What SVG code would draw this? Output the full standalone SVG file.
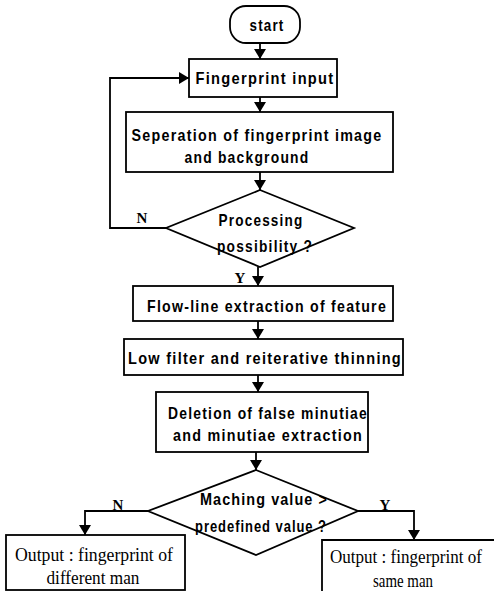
<svg xmlns="http://www.w3.org/2000/svg" width="497" height="591" viewBox="0 0 497 591">
<defs>
<marker id="ah" viewBox="0 0 10 12" refX="10" refY="6" markerWidth="10" markerHeight="12" markerUnits="userSpaceOnUse" orient="auto">
<path d="M0,0 L10,6 L0,12 z" fill="#000"/>
</marker>
<style>
.box{fill:#fff;stroke:#000;stroke-width:1.8}
.conn{fill:none;stroke:#000;stroke-width:1.8;marker-end:url(#ah)}
.t{font-family:"Liberation Sans",Arial,sans-serif;font-weight:bold;font-size:17px;letter-spacing:1.5px;text-anchor:middle;fill:#000}
.d{font-family:"Liberation Sans",Arial,sans-serif;font-weight:bold;font-size:16px;letter-spacing:1.2px;text-anchor:middle;fill:#000}
.o{font-family:"Liberation Serif","Times New Roman",serif;font-size:18px;text-anchor:middle;fill:#000}
.l{font-family:"Liberation Serif","Times New Roman",serif;font-weight:bold;font-size:15px;text-anchor:middle;fill:#000}
</style>
</defs>
<rect width="497" height="591" fill="#fff"/>
<g id="connectors">
<line class="conn" x1="260" y1="43" x2="260" y2="59"/>
<line class="conn" x1="260" y1="97" x2="260" y2="112"/>
<line class="conn" x1="260" y1="172" x2="260" y2="190"/>
<path class="conn" d="M166,228 H110 V78 H189"/>
<line class="conn" x1="258" y1="267" x2="258" y2="286"/>
<line class="conn" x1="258" y1="321" x2="258" y2="339"/>
<line class="conn" x1="258" y1="375" x2="258" y2="392"/>
<line class="conn" x1="256" y1="452" x2="256" y2="470"/>
<path class="conn" d="M148,511 H85 V535"/>
<path class="conn" d="M358,511 H414 V540"/>
<text class="l" x="142" y="223">N</text>
<text class="l" x="240" y="283">Y</text>
<text class="l" x="118" y="510">N</text>
<text class="l" x="385" y="510">Y</text>
</g>
<g id="start">
<rect class="box" x="230" y="6" width="70" height="37" rx="16"/>
<text class="t" x="267" y="31" textLength="35" lengthAdjust="spacingAndGlyphs">start</text>
</g>
<g id="fingerprint-input">
<rect class="box" x="189" y="59" width="148" height="38"/>
<text class="t" x="265" y="84" textLength="139" lengthAdjust="spacingAndGlyphs">Fingerprint input</text>
</g>
<g id="separation">
<rect class="box" x="126" y="112" width="267" height="60"/>
<text class="t" x="257" y="141" textLength="251" lengthAdjust="spacingAndGlyphs">Seperation of fingerprint image</text>
<text class="t" x="247" y="163" textLength="125" lengthAdjust="spacingAndGlyphs">and background</text>
</g>
<g id="processing-possibility">
<polygon class="box" points="260,190 354,228 260,267 166,228"/>
<text class="t" x="261" y="226" textLength="85" lengthAdjust="spacingAndGlyphs">Processing</text>
<text class="t" x="265" y="252" textLength="96" lengthAdjust="spacingAndGlyphs">possibility ?</text>
</g>
<g id="flow-line">
<rect class="box" x="133" y="286" width="260" height="35"/>
<text class="t" x="267" y="312" textLength="240" lengthAdjust="spacingAndGlyphs">Flow-line extraction of feature</text>
</g>
<g id="low-filter">
<rect class="box" x="124" y="339" width="279" height="36"/>
<text class="t" x="265" y="364" textLength="274" lengthAdjust="spacingAndGlyphs">Low filter and reiterative thinning</text>
</g>
<g id="deletion">
<rect class="box" x="156" y="392" width="212" height="60"/>
<text class="t" x="268" y="419" textLength="200" lengthAdjust="spacingAndGlyphs">Deletion of false minutiae</text>
<text class="t" x="268" y="441" textLength="190" lengthAdjust="spacingAndGlyphs">and minutiae extraction</text>
</g>
<g id="matching">
<polygon class="box" points="256,470 358,511 256,555 148,511"/>
<text class="d" x="264" y="505" textLength="128" lengthAdjust="spacingAndGlyphs">Maching value &gt;</text>
<text class="d" x="261" y="532" textLength="132" lengthAdjust="spacingAndGlyphs">predefined value ?</text>
</g>
<g id="output-different">
<rect class="box" x="6" y="535" width="179" height="55"/>
<text class="o" x="94" y="561" textLength="158" lengthAdjust="spacingAndGlyphs">Output : fingerprint of</text>
<text class="o" x="93" y="584" textLength="93" lengthAdjust="spacingAndGlyphs">different man</text>
</g>
<g id="output-same">
<path class="box" d="M322,591 V540 H494" fill="none"/>
<text class="o" x="406" y="563" textLength="152" lengthAdjust="spacingAndGlyphs">Output : fingerprint of</text>
<text class="o" x="403" y="587" textLength="60" lengthAdjust="spacingAndGlyphs">same man</text>
</g>
</svg>
